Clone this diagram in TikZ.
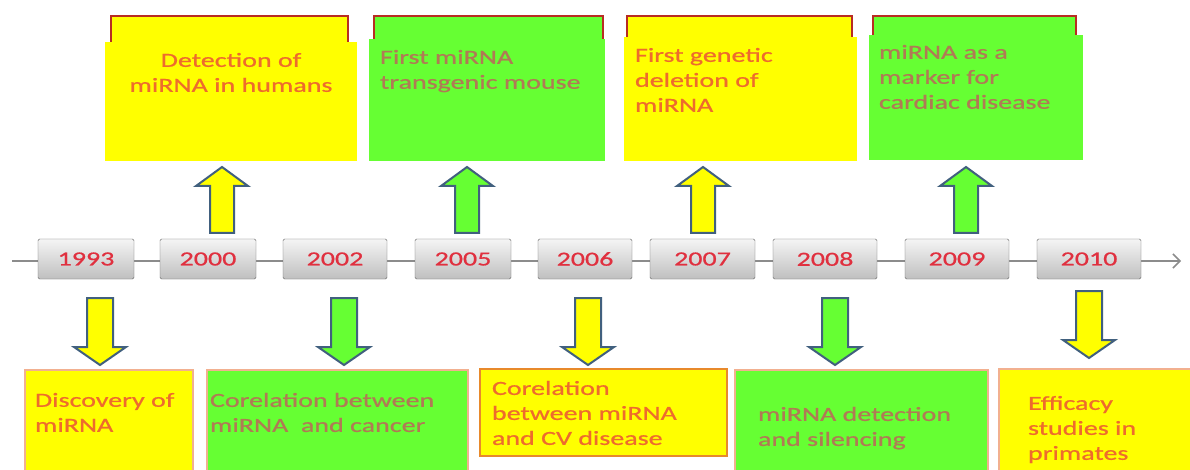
\documentclass[tikz,border=0pt]{standalone}
\usepackage{fontspec}
\setmainfont[FakeStretch=1.4,FakeBold=0.8]{Carlito}
\usetikzlibrary{arrows.meta}
\definecolor{yel}{HTML}{FFFF00}
\definecolor{grn}{HTML}{66FF33}
\definecolor{tabred}{HTML}{B82C22}
\definecolor{txtY}{HTML}{EE6B2D}
\definecolor{txtG}{HTML}{B07A55}
\definecolor{yrred}{HTML}{E0303F}
\definecolor{arrline}{HTML}{41607E}
\definecolor{salmon}{HTML}{F2B090}
\definecolor{orng}{HTML}{E8892B}
\definecolor{tlgray}{HTML}{8C8C8C}
\newcommand{\upblock}[4]{%
  \draw[blockarrow, fill=#4] (#1-12,#2) -- (#1-12,#3+19) -- (#1-26,#3+19) -- (#1,#3)
    -- (#1+26,#3+19) -- (#1+12,#3+19) -- (#1+12,#2) -- cycle;}
\newcommand{\downblock}[4]{%
  \draw[blockarrow, fill=#4] (#1-13,#2) -- (#1-13,#3-18) -- (#1-26,#3-18) -- (#1,#3)
    -- (#1+26,#3-18) -- (#1+13,#3-18) -- (#1+13,#2) -- cycle;}
\begin{document}
\begin{tikzpicture}[x=1pt,y=-1pt,
  every node/.style={inner sep=0pt, outer sep=0pt},
  evbox/.style={minimum width=#1, anchor=north west},
  tabbox/.style={draw=tabred, line width=2.5pt, anchor=north west},
  yearbox/.style={draw=black!60, rounded corners=1.5pt, top color=gray!8, bottom color=gray!50,
     minimum width=96pt, minimum height=40pt, text=yrred, font=\fontsize{20}{24}\selectfont},
  evtext/.style={anchor=north west, align=left, font=\fontsize{20}{25}\selectfont},
  blockarrow/.style={draw=arrline, line width=2pt, line join=miter},
  timeline/.style={draw=tlgray, line width=1.5pt, -{Straight Barb[length=7pt,width=14pt]}}]
\useasboundingbox (0,0) rectangle (1190,470);
\fill[white] (0,0) rectangle (1190,470);

% timeline
\coordinate (tlstart) at (12,261);
\coordinate (tlend) at (1181,261);
\draw[timeline] (tlstart) -- (tlend);

% year boxes
\node[yearbox, minimum width=96pt]  (y1993) at (86,259)   {1993};
\node[yearbox, minimum width=96pt]  (y2000) at (208,259)  {2000};
\node[yearbox, minimum width=104pt] (y2002) at (335,259)  {2002};
\node[yearbox, minimum width=96pt]  (y2005) at (463,259)  {2005};
\node[yearbox, minimum width=94pt]  (y2006) at (585,259)  {2006};
\node[yearbox, minimum width=105pt] (y2007) at (702.5,259){2007};
\node[yearbox, minimum width=104pt] (y2008) at (825,259)  {2008};
\node[yearbox, minimum width=104pt] (y2009) at (957,259)  {2009};
\node[yearbox, minimum width=104pt] (y2010) at (1089,259) {2010};

% top tabs
\node[tabbox, fill=yel, minimum width=237pt, minimum height=40pt] (tab1) at (111,16) {};
\node[tabbox, fill=grn, minimum width=229pt, minimum height=40pt] (tab2) at (374,16) {};
\node[tabbox, fill=yel, minimum width=225pt, minimum height=40pt] (tab3) at (627,16) {};
\node[tabbox, fill=grn, minimum width=203pt, minimum height=40pt] (tab4) at (873,16) {};

% top boxes
\node[evbox=252pt, fill=yel, minimum height=119pt] (top1) at (105,42) {};
\node[evbox=236pt, fill=grn, minimum height=122pt] (top2) at (369,39) {};
\node[evbox=233pt, fill=yel, minimum height=124pt] (top3) at (624,37) {};
\node[evbox=214pt, fill=grn, minimum height=125pt] (top4) at (869,35) {};

\node[anchor=north, align=center, font=\fontsize{20}{25}\selectfont, text=txtY] (t1) at (231,53)
  {Detection of\\miRNA in humans};
\node[evtext, text=txtG] (t2) at (380,50) {First miRNA\\transgenic mouse};
\node[evtext, text=txtY] (t3) at (635,48) {First genetic\\deletion of\\miRNA};
\node[evtext, text=txtG] (t4) at (879,45) {miRNA as a\\marker for\\cardiac disease};

% up arrows
\upblock{222}{233}{167}{yel}
\upblock{467}{233}{167}{grn}
\upblock{703}{233}{167}{yel}
\upblock{966}{233}{167}{grn}

% down arrows
\downblock{100}{298}{365}{yel}
\downblock{344}{298}{365}{grn}
\downblock{588}{298}{365}{yel}
\downblock{835}{298}{365}{grn}
\downblock{1089}{291}{358}{yel}

% bottom boxes
\node[evbox=168pt, fill=yel, draw=salmon, line width=1.2pt, minimum height=110pt] (bot1) at (25,370) {};
\node[evbox=261pt, fill=grn, draw=salmon, line width=1.2pt, minimum height=110pt] (bot2) at (207,370) {};
\node[evbox=247pt, fill=yel, draw=orng, line width=1.5pt, minimum height=87pt] (bot3) at (480,369) {};
\node[evbox=253pt, fill=grn, draw=salmon, line width=1.2pt, minimum height=110pt] (bot4) at (735,370) {};
\node[evbox=200pt, fill=yel, draw=salmon, line width=1.2pt, minimum height=110pt] (bot5) at (999,369) {};

\node[evtext, text=txtY] (b1) at (35,393) {Discovery of\\miRNA};
\node[evtext, text=txtG] (b2) at (210,393) {Corelation between\\miRNA\ \ and cancer};
\node[evtext, text=txtY] (b3) at (492,381) {Corelation\\between miRNA\\and CV disease};
\node[evtext, text=txtG] (b4) at (758,407) {miRNA detection\\and silencing};
\node[evtext, text=txtY] (b5) at (1028,396) {Efficacy\\studies in\\primates};
\end{tikzpicture}
\end{document}
